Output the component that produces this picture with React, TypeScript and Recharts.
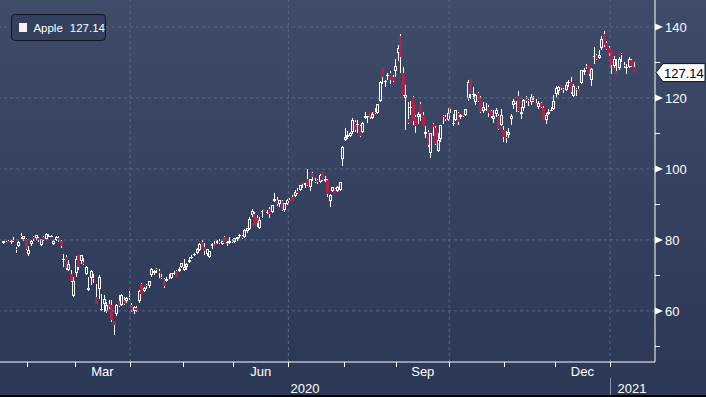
import React from 'react';
import { ComposedChart, Bar, XAxis, YAxis, ReferenceLine } from 'recharts';

// trading sessions shown, grouped by month
const tradingDays: [string, number[]][] = [
  ['2020-01', [17, 21, 22, 23, 24, 27, 28, 29, 30, 31]],
  ['2020-02', [3, 4, 5, 6, 7, 10, 11, 12, 13, 14, 18, 19, 20, 21, 24, 25, 26, 27, 28]],
  ['2020-03', [2, 3, 4, 5, 6, 9, 10, 11, 12, 13, 16, 17, 18, 19, 20, 23, 24, 25, 26, 27, 30, 31]],
  ['2020-04', [1, 2, 3, 6, 7, 8, 9, 13, 14, 15, 16, 17, 20, 21, 22, 23, 24, 27, 28, 29, 30]],
  ['2020-05', [1, 4, 5, 6, 7, 8, 11, 12, 13, 14, 15, 18, 19, 20, 21, 22, 26, 27, 28, 29]],
  ['2020-06', [1, 2, 3, 4, 5, 8, 9, 10, 11, 12, 15, 16, 17, 18, 19, 22, 23, 24, 25, 26, 29, 30]],
  ['2020-07', [1, 2, 6, 7, 8, 9, 10, 13, 14, 15, 16, 17, 20, 21, 22, 23, 24, 27, 28, 29, 30, 31]],
  ['2020-08', [3, 4, 5, 6, 7, 10, 11, 12, 13, 14, 17, 18, 19, 20, 21, 24, 25, 26, 27, 28, 31]],
  ['2020-09', [1, 2, 3, 4, 8, 9, 10, 11, 14, 15, 16, 17, 18, 21, 22, 23, 24, 25, 28, 29, 30]],
  ['2020-10', [1, 2, 5, 6, 7, 8, 9, 12, 13, 14, 15, 16, 19, 20, 21, 22, 23, 26, 27, 28, 29, 30]],
  ['2020-11', [2, 3, 4, 5, 6, 9, 10, 11, 12, 13, 16, 17, 18, 19, 20, 23, 24, 25, 27, 30]],
  ['2020-12', [1, 2, 3, 4, 7, 8, 9, 10, 11, 14, 15, 16, 17, 18, 21, 22, 23, 24, 28, 29, 30, 31]],
  ['2021-01', [4, 5, 6, 7, 8, 11, 12, 13, 14, 15]],
];

const opens = [
  79.07, 79.3, 79.64, 79.48, 80.06, 77.51, 78.15, 81.11, 80.14, 80.23,
  76.07, 78.83, 80.88, 80.64, 80.59, 78.54, 80.9, 80.37, 81.05, 81.18, 78.84, 80.0, 80.66, 79.65, 74.32, 75.24, 71.63, 70.28, 64.32,
  70.57, 75.92, 74.11, 73.88, 70.5, 65.94, 69.29, 69.35, 63.99, 66.22, 60.49, 61.88, 59.94, 61.85, 61.79, 57.02, 59.09, 62.69, 61.63, 63.19, 62.69, 63.9,
  61.63, 60.09, 60.7, 62.73, 67.7, 65.68, 67.18, 67.08, 70.0, 70.6, 71.85, 71.17, 69.49, 69.07, 68.4, 68.97, 69.3, 70.45, 71.27, 71.18, 72.49,
  71.56, 72.29, 73.76, 75.11, 75.81, 76.41, 77.03, 79.46, 78.04, 76.13, 75.09, 78.29, 78.76, 79.17, 79.67, 78.94, 80.88, 79.04, 79.19, 79.81,
  79.44, 80.19, 81.17, 81.1, 80.84, 82.56, 83.04, 86.98, 87.33, 86.18, 83.31, 87.86, 88.79, 87.85, 88.66, 87.84, 91.0, 91.25, 90.18, 91.1, 88.31, 90.02,
  91.28, 91.96, 92.5, 93.85, 94.18, 96.26, 95.34, 97.27, 94.84, 98.99, 96.56, 96.99, 96.42, 99.17, 96.69, 96.99, 90.99, 93.71, 94.37, 93.75, 94.19, 102.89,
  108.2, 109.13, 109.38, 110.41, 113.21, 112.6, 111.97, 110.5, 114.43, 114.83, 116.06, 114.35, 115.98, 115.75, 119.26, 128.7, 124.7, 126.18, 127.14, 126.01, 127.58,
  132.76, 137.59, 126.91, 120.07, 113.95, 117.26, 120.36, 114.57, 114.72, 118.33, 115.23, 109.72, 110.4, 104.54, 112.68, 111.62, 105.17, 108.43, 115.01, 114.55, 113.79,
  117.64, 112.89, 113.91, 115.7, 114.62, 116.25, 115.28, 120.06, 125.27, 121.0, 118.72, 121.28, 119.96, 116.2, 116.67, 117.45, 116.39, 114.01, 115.49, 115.05, 112.37, 111.06,
  109.11, 109.66, 114.14, 117.95, 118.32, 120.5, 115.55, 117.19, 119.62, 119.44, 118.92, 119.55, 118.61, 117.59, 118.64, 117.18, 113.91, 115.55, 116.57, 116.97,
  121.01, 122.02, 123.52, 122.6, 122.31, 124.37, 124.53, 120.5, 122.43, 122.6, 124.34, 127.41, 128.9, 128.96, 125.02, 131.61, 132.16, 131.32, 133.99, 138.05, 135.58, 134.08,
  133.52, 128.89, 127.72, 128.36, 132.43, 129.19, 128.5, 128.76, 130.8, 128.78,
];

const highs = [
  79.68, 79.75, 80.0, 79.89, 80.83, 77.94, 79.6, 81.96, 81.02, 80.67,
  78.37, 79.91, 81.19, 81.31, 80.85, 80.39, 80.97, 81.81, 81.56, 81.5, 79.94, 81.14, 81.16, 80.11, 76.04, 75.63, 74.47, 71.5, 69.6,
  75.36, 76.0, 75.85, 74.89, 72.71, 69.52, 71.61, 70.31, 67.5, 69.98, 64.77, 64.4, 62.5, 63.21, 62.96, 57.13, 61.92, 64.56, 64.67, 63.97, 63.88, 65.62,
  62.18, 61.29, 61.43, 65.78, 67.93, 66.84, 67.52, 68.43, 72.06, 71.58, 72.05, 71.74, 70.42, 69.31, 69.47, 70.44, 70.75, 71.14, 71.46, 72.42, 73.63,
  74.75, 73.42, 75.25, 75.81, 76.29, 77.59, 79.26, 79.92, 78.99, 77.45, 76.97, 79.13, 79.63, 79.88, 80.22, 79.81, 81.06, 79.68, 80.86, 80.29,
  80.59, 80.86, 81.55, 81.41, 82.94, 83.4, 86.4, 88.69, 87.76, 86.95, 86.42, 88.3, 88.85, 88.36, 89.14, 89.87, 93.1, 92.2, 91.25, 91.33, 90.54, 91.5,
  91.84, 92.62, 93.95, 94.66, 95.38, 96.32, 95.98, 99.96, 97.26, 99.25, 97.41, 97.15, 98.5, 99.25, 97.97, 97.08, 92.97, 94.91, 94.55, 95.23, 96.3, 106.42,
  111.64, 110.79, 110.39, 114.41, 113.68, 113.78, 112.48, 113.28, 116.04, 115.0, 116.09, 116.0, 117.16, 118.39, 124.87, 128.79, 125.18, 126.99, 127.49, 126.44, 131.0,
  134.8, 137.98, 128.84, 123.7, 118.99, 119.14, 120.5, 115.23, 115.93, 118.83, 116.0, 112.2, 110.88, 110.19, 112.86, 112.11, 110.25, 112.44, 115.32, 115.31, 117.26,
  117.72, 115.37, 116.65, 116.12, 115.55, 116.4, 117.0, 125.18, 125.39, 123.03, 121.2, 121.55, 120.42, 118.98, 118.71, 118.04, 116.55, 116.55, 117.28, 115.43, 116.93, 111.99,
  110.68, 111.49, 115.59, 119.62, 119.2, 121.99, 117.59, 119.63, 120.53, 119.67, 120.99, 120.67, 119.82, 119.06, 118.77, 117.62, 115.85, 116.75, 117.49, 120.97,
  123.47, 123.37, 123.78, 122.86, 124.57, 124.98, 125.95, 123.87, 122.76, 123.35, 127.9, 128.37, 129.58, 129.1, 128.31, 134.41, 132.43, 133.46, 137.34, 138.79, 135.99, 134.74,
  133.61, 131.74, 131.05, 131.63, 132.63, 130.17, 129.69, 131.45, 131.0, 130.22,
];

const lows = [
  78.75, 79.0, 79.33, 78.91, 79.38, 76.22, 78.05, 80.35, 79.69, 77.07,
  75.56, 78.41, 79.74, 80.07, 79.5, 78.46, 79.68, 80.37, 80.84, 80.71, 78.65, 80.0, 79.55, 77.63, 72.31, 71.53, 71.63, 68.24, 64.09,
  69.43, 71.45, 73.28, 72.85, 70.31, 65.75, 67.34, 67.96, 62.0, 63.24, 60.0, 59.6, 59.28, 60.65, 57.0, 53.15, 58.58, 61.08, 61.59, 61.76, 62.35, 63.0,
  59.78, 59.22, 59.74, 62.35, 64.75, 65.31, 66.18, 66.46, 69.51, 70.16, 70.59, 69.21, 69.01, 66.36, 68.05, 68.72, 69.25, 69.99, 69.55, 70.97, 72.09,
  71.46, 71.58, 73.61, 74.72, 75.49, 76.07, 76.81, 77.73, 75.8, 75.38, 75.05, 77.58, 78.25, 79.13, 78.97, 78.84, 79.13, 78.27, 78.91, 79.12,
  79.3, 79.73, 80.58, 80.2, 80.81, 81.83, 83.0, 86.52, 83.87, 83.56, 83.14, 86.18, 87.77, 87.31, 86.29, 87.79, 90.57, 89.63, 89.39, 88.25, 87.82, 90.0,
  90.98, 90.91, 92.47, 93.06, 94.09, 94.67, 94.71, 95.26, 93.88, 96.49, 95.91, 95.84, 96.06, 96.74, 96.6, 92.01, 89.14, 93.48, 93.25, 93.71, 93.77, 100.83,
  107.89, 108.39, 108.9, 109.8, 110.29, 110.0, 109.11, 110.3, 113.93, 113.05, 113.96, 114.01, 115.61, 115.73, 119.25, 123.94, 123.05, 125.08, 123.83, 124.58, 126.0,
  130.53, 127.0, 120.5, 110.89, 112.68, 115.26, 112.5, 110.0, 112.8, 113.61, 112.04, 108.71, 106.09, 103.1, 109.16, 106.77, 105.0, 107.67, 112.78, 113.57, 113.62,
  115.83, 112.22, 113.55, 112.25, 114.13, 114.59, 114.92, 119.28, 119.65, 119.62, 118.15, 118.81, 115.66, 115.63, 116.45, 114.59, 114.28, 112.88, 114.54, 111.1, 112.2, 107.72,
  107.32, 108.73, 112.35, 116.87, 116.13, 116.05, 114.13, 116.44, 118.57, 117.87, 118.15, 118.96, 118.0, 116.81, 117.29, 113.75, 112.59, 115.17, 116.22, 116.81,
  120.01, 120.89, 122.21, 121.52, 122.25, 123.09, 121.0, 120.15, 120.55, 121.54, 124.13, 126.56, 128.04, 126.12, 123.45, 129.65, 130.78, 131.1, 133.51, 134.34, 133.4, 131.72,
  126.76, 128.43, 126.38, 127.86, 130.23, 128.5, 126.86, 128.49, 128.76, 127.0,
];

const closes = [
  79.68, 79.14, 79.43, 79.81, 79.58, 77.24, 79.42, 81.08, 80.97, 77.38,
  77.17, 79.71, 80.36, 81.3, 80.01, 80.39, 79.9, 81.8, 81.22, 81.24, 79.75, 80.9, 80.07, 78.26, 74.54, 72.02, 73.16, 68.38, 68.34,
  74.7, 72.33, 75.68, 73.23, 72.26, 66.54, 71.33, 68.86, 62.06, 69.49, 60.55, 63.22, 61.67, 61.2, 57.31, 56.09, 61.72, 61.38, 64.61, 61.94, 63.7, 63.57,
  60.23, 61.23, 60.35, 65.62, 64.86, 66.52, 67.0, 68.31, 71.76, 71.11, 71.67, 70.7, 69.23, 67.09, 69.03, 68.76, 70.74, 70.79, 69.64, 71.93, 73.45,
  72.27, 73.29, 74.39, 75.16, 75.93, 77.53, 78.75, 77.85, 76.91, 77.39, 76.93, 78.74, 78.29, 79.81, 79.21, 79.72, 79.18, 79.53, 79.56, 79.49,
  80.46, 80.83, 81.28, 80.58, 82.88, 83.36, 85.99, 88.21, 83.97, 84.7, 85.75, 88.02, 87.9, 87.93, 87.43, 89.72, 91.63, 90.01, 91.21, 88.41, 90.45, 91.2,
  91.03, 91.03, 93.46, 93.17, 95.34, 95.75, 95.92, 95.48, 97.06, 97.73, 96.52, 96.33, 98.36, 97.0, 97.27, 92.85, 92.61, 94.81, 93.25, 95.04, 96.19, 106.26,
  108.94, 109.67, 110.06, 113.9, 111.11, 112.73, 109.38, 113.01, 115.01, 114.91, 114.61, 115.56, 115.71, 118.28, 124.37, 125.86, 124.83, 126.52, 125.01, 124.81, 129.04,
  134.18, 131.4, 120.88, 120.96, 112.82, 117.32, 113.49, 112.0, 115.36, 115.54, 112.13, 110.34, 106.84, 110.08, 111.81, 107.12, 108.22, 112.28, 114.96, 114.09, 115.81,
  116.79, 113.02, 116.5, 113.16, 115.08, 114.97, 116.97, 124.4, 121.1, 121.19, 120.71, 119.02, 115.98, 117.51, 116.87, 115.75, 115.04, 115.05, 116.6, 111.2, 115.32, 108.86,
  108.77, 110.44, 114.95, 119.03, 118.69, 116.32, 115.97, 119.49, 119.21, 119.26, 120.3, 119.39, 118.03, 118.64, 117.34, 113.85, 115.17, 116.03, 116.59, 119.05,
  122.72, 123.08, 122.94, 122.25, 123.75, 124.38, 121.78, 123.24, 122.41, 121.78, 127.88, 127.81, 128.7, 126.66, 128.23, 131.88, 130.96, 131.97, 136.69, 134.87, 133.72, 132.69,
  129.41, 131.01, 126.6, 130.92, 132.05, 128.98, 128.8, 130.89, 128.91, 127.14,
];

const lastPrice = 127.14;
const priceTicks = [50, 60, 70, 80, 90, 100, 110, 120, 130, 140];
const priceLabels = [60, 80, 100, 120, 140];
const monthNames: Record<string, string> = { '2020-03': 'Mar', '2020-06': 'Jun', '2020-09': 'Sep', '2020-12': 'Dec' };
const quarterStarts = ['2020-04', '2020-07', '2020-10', '2021-01'];

const X_MIN = -1.25;
const X_MAX = 259.4;
const FONT = '"Liberation Sans", Arial, sans-serif';
const GRID = '#5d6b88';
const RED = '#b3214b';

const dates = tradingDays.flatMap(([m, ds]) => ds.map((d) => `${m}-${String(d).padStart(2, '0')}`));
const data = dates.map((date, i) => ({
  i,
  date,
  open: opens[i],
  high: highs[i],
  low: lows[i],
  close: closes[i],
  range: [lows[i], highs[i]],
}));

// month boundaries sit half a session before the first trading day of each month
const boundaries: { month: string; at: number }[] = [];
{
  let n = 0;
  tradingDays.forEach(([m, ds]) => {
    boundaries.push({ month: m, at: n - 0.5 });
    n += ds.length;
  });
}

type XTick = { value: number; kind: 'mark' | 'month' | 'year'; text?: string; year?: string };
const xTicks: XTick[] = [];
boundaries.slice(1).forEach((b) => {
  xTicks.push({ value: b.at, kind: 'mark', year: b.month.endsWith('-01') ? b.month.slice(0, 4) : undefined });
});
boundaries.forEach((b, k) => {
  const next = boundaries[k + 1];
  if (monthNames[b.month] && next) xTicks.push({ value: (b.at + next.at) / 2, kind: 'month', text: monthNames[b.month] });
});
const newYear = boundaries.find((b) => b.month === '2021-01')!;
xTicks.push({ value: (X_MIN + newYear.at) / 2, kind: 'year', text: '2020' });
xTicks.sort((a, b) => a.value - b.value);

const quarterLines = boundaries.filter((b) => quarterStarts.includes(b.month)).map((b) => b.at);

const XTickMark = (props: any) => {
  const { x, y, payload } = props;
  const t = xTicks.find((tk) => Math.abs(tk.value - payload.value) < 1e-6);
  if (!t) return <g />;
  const px = Math.round(x) + 0.5;
  if (t.kind === 'mark') {
    return (
      <g>
        <line x1={px} x2={px} y1={y} y2={y + 5} stroke="#ffffff" />
        {t.year && (
          <g>
            <line x1={px} x2={px} y1={y + 16} y2={y + 35} stroke="#8e98ad" />
            <text x={px + 7} y={y + 31} fill="#ffffff" fontSize={13} fontFamily={FONT}>
              {t.year}
            </text>
          </g>
        )}
      </g>
    );
  }
  return (
    <text x={x} y={t.kind === 'month' ? y + 14 : y + 31} textAnchor="middle" fill="#ffffff" fontSize={13} fontFamily={FONT}>
      {t.text}
    </text>
  );
};

const YTickMark = (props: any) => {
  const { x, y, payload } = props;
  const v = payload.value;
  if (Math.abs(v - lastPrice) < 1e-6) {
    return (
      <g>
        <polygon
          points={`${x + 1},${y} ${x + 8},${y - 9} ${x + 50},${y - 9} ${x + 50},${y + 9} ${x + 8},${y + 9}`}
          fill="#ffffff"
          stroke="#111111"
        />
        <text x={x + 9} y={y + 5} fill="#000000" fontSize={13} fontFamily={FONT}>
          {lastPrice.toFixed(2)}
        </text>
      </g>
    );
  }
  if (priceLabels.includes(v)) {
    return (
      <g>
        <polygon points={`${x},${y - 3.5} ${x},${y + 3.5} ${x + 8},${y}`} fill="#ffffff" />
        <text x={x + 10} y={y + 5} fill="#ffffff" fontSize={13} fontFamily={FONT}>
          {v}
        </text>
      </g>
    );
  }
  const py = Math.round(y) + 0.5;
  return <line x1={x} x2={x + 5} y1={py} y2={py} stroke="#ffffff" />;
};

const Candle = (props: any) => {
  const { x, y, width, height, payload } = props;
  if (!payload || height == null) return null;
  const top = Math.min(y, y + height);
  const h = Math.abs(height);
  const span = payload.high - payload.low || 1;
  const toY = (v: number) => Math.round(top + ((payload.high - v) / span) * h);
  const cx = Math.round(x + width / 2);
  const yh = toY(payload.high);
  const yl = toY(payload.low);
  const yo = toY(payload.open);
  const yc = toY(payload.close);
  const bTop = Math.min(yo, yc);
  const bBot = Math.max(yo, yc);
  const wx = cx + 0.5;
  if (payload.close >= payload.open) {
    return (
      <g>
        <line x1={wx} x2={wx} y1={yh} y2={bTop} stroke="#ffffff" />
        <line x1={wx} x2={wx} y1={bBot} y2={Math.max(yl, bBot + 1)} stroke="#ffffff" />
        {bBot - bTop >= 2 ? (
          <rect x={cx - 0.5} y={bTop + 0.5} width={2} height={bBot - bTop - 1} fill="none" stroke="#ffffff" />
        ) : (
          <line x1={cx - 1} x2={cx + 2} y1={bTop + 0.5} y2={bTop + 0.5} stroke="#ffffff" />
        )}
      </g>
    );
  }
  return (
    <g>
      <line x1={wx} x2={wx} y1={yh} y2={Math.max(yl, yh + 1)} stroke="#ffffff" />
      <rect x={cx - 1} y={bTop} width={3} height={Math.max(bBot - bTop, 1)} fill={RED} />
    </g>
  );
};

export default function App() {
  return (
    <div
      style={{
        position: 'relative',
        width: 706,
        height: 397,
        overflow: 'hidden',
        background: 'linear-gradient(180deg, #3e4b69 0%, #34425f 50%, #2b3855 100%)',
      }}
    >
      <style>{'body{margin:0}'}</style>
      <ComposedChart width={706} height={397} data={data} margin={{ top: 0, right: 0, bottom: 0, left: 0 }}>
        {priceLabels.map((v) => (
          <ReferenceLine key={`h-${v}`} y={v} stroke={GRID} strokeDasharray="3 3" />
        ))}
        {quarterLines.map((v) => (
          <ReferenceLine key={`v-${v}`} x={v} stroke={GRID} strokeDasharray="3 3" />
        ))}
        <XAxis
          dataKey="i"
          type="number"
          domain={[X_MIN, X_MAX]}
          allowDataOverflow
          ticks={xTicks.map((t) => t.value)}
          interval={0}
          height={35}
          tickSize={0}
          tickMargin={0}
          tickLine={false}
          axisLine={{ stroke: '#ffffff' }}
          tick={<XTickMark />}
        />
        <YAxis
          orientation="right"
          type="number"
          domain={[45.6, 147.6]}
          allowDataOverflow
          ticks={[...priceTicks, lastPrice]}
          interval={0}
          width={51}
          tickSize={0}
          tickMargin={0}
          tickLine={false}
          axisLine={{ stroke: '#ffffff' }}
          tick={<YTickMark />}
        />
        <Bar dataKey="range" barSize={3} isAnimationActive={false} shape={<Candle />} />
      </ComposedChart>
      <div
        style={{
          position: 'absolute',
          left: 11,
          top: 14,
          width: 95,
          height: 27,
          boxSizing: 'border-box',
          border: '1px solid #10141d',
          borderRadius: 4,
          background: '#33415e',
          display: 'flex',
          alignItems: 'center',
          paddingLeft: 7,
          color: '#ffffff',
          fontFamily: FONT,
          fontSize: 11.5,
        }}
      >
        <span style={{ width: 9, height: 9, background: '#fcefeb', marginRight: 6 }} />
        <span>Apple</span>
        <span style={{ marginLeft: 7 }}>127.14</span>
      </div>
      <div style={{ position: 'absolute', left: 0, bottom: 0, width: 706, height: 2, background: '#000000' }} />
    </div>
  );
}
